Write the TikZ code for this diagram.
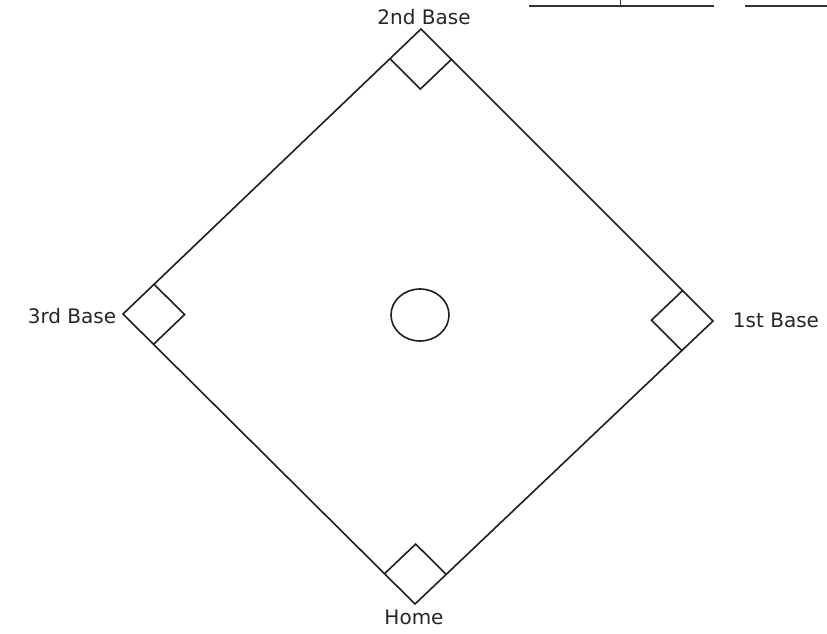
\documentclass[tikz,border=0pt]{standalone}
\usepackage{fontspec}
\setmainfont{DejaVu Sans}
\usetikzlibrary{calc,shapes.geometric}
\begin{document}
\begin{tikzpicture}[x=1pt,y=-1pt,
  field/.style={line width=1.6pt,line join=miter,draw=black!88},
  lbl/.style={font=\fontsize{20}{24}\selectfont,text=black!85,inner sep=0pt}]
\useasboundingbox (0,0) rectangle (827,634);
% outer vertices of the diamond
\coordinate (T) at (421,29);
\coordinate (L) at (123,314);
\coordinate (R) at (713,321);
\coordinate (B) at (415,604);
% base squares
\def\s{43pt}
\coordinate (TL) at ($(T)!\s!(L)$);
\coordinate (TR) at ($(T)!\s!(R)$);
\coordinate (TI) at ($(TL)+(TR)-(T)$);
\coordinate (LT) at ($(L)!\s!(T)$);
\coordinate (LB) at ($(L)!\s!(B)$);
\coordinate (LI) at ($(LT)+(LB)-(L)$);
\coordinate (RT) at ($(R)!\s!(T)$);
\coordinate (RB) at ($(R)!\s!(B)$);
\coordinate (RI) at ($(RT)+(RB)-(R)$);
\coordinate (BL) at ($(B)!\s!(L)$);
\coordinate (BR) at ($(B)!\s!(R)$);
\coordinate (BI) at ($(BL)+(BR)-(B)$);
\draw[field] (T) -- (TL) -- (TI) -- (TR) -- cycle;
\draw[field] (L) -- (LT) -- (LI) -- (LB) -- cycle;
\draw[field] (R) -- (RT) -- (RI) -- (RB) -- cycle;
\draw[field] (B) -- (BL) -- (BI) -- (BR) -- cycle;
% base lines
\draw[field] (TL) -- (LT);
\draw[field] (TR) -- (RT);
\draw[field] (LB) -- (BL);
\draw[field] (RB) -- (BR);
% pitcher's mound
\node[field,ellipse,minimum width=58pt,minimum height=52pt,inner sep=0pt] (mound) at (420,315) {};
% labels
\node[lbl] (second) at (424,17) {2nd Base};
\node[lbl] (third) at (72,316) {3rd Base};
\node[lbl] (first) at (776,320) {1st Base};
\node[lbl] (home) at (414,617) {Home};
% partial underlines at top right
\coordinate (u1a) at (529,6);
\coordinate (u1b) at (714,6);
\coordinate (u2a) at (745,6);
\coordinate (u2b) at (827,6);
\coordinate (tk1) at (620,0);
\coordinate (tk2) at (620,6);
\draw[line width=1.6pt,black!80] (u1a) -- (u1b);
\draw[line width=1.6pt,black!80] (u2a) -- (u2b);
\draw[line width=1pt,black!80] (tk1) -- (tk2);
\end{tikzpicture}
\end{document}
